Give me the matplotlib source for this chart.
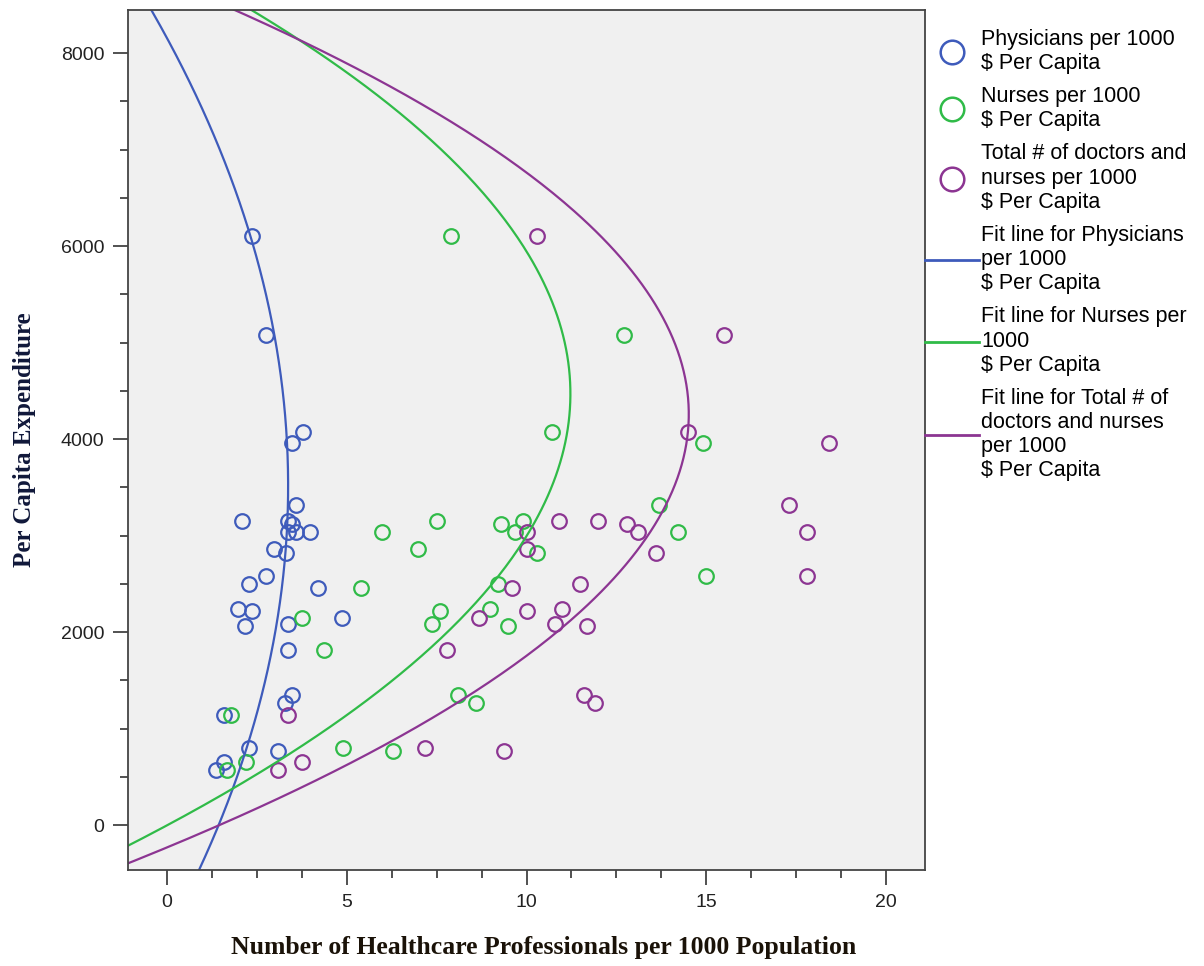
import numpy as np
import matplotlib
matplotlib.use("Agg")
import matplotlib.pyplot as plt
from matplotlib.lines import Line2D

# Dépense par habitant (une valeur par pays)
spend = [6100, 5080, 4070, 3955, 3320, 3155, 3155, 3120, 3035, 3035, 3035,
         2865, 2815, 2585, 2495, 2455, 2235, 2220, 2150, 2080, 2065, 1815,
         1345, 1265, 1140, 795, 765, 650, 570]

physicians = [2.38, 2.77, 3.78, 3.48, 3.58, 2.09, 3.37, 3.49, 3.99, 3.58, 3.36,
              2.97, 3.30, 2.77, 2.28, 4.19, 1.97, 2.38, 4.88, 3.37, 2.18, 3.37,
              3.48, 3.28, 1.58, 2.28, 3.09, 1.58, 1.38]

nurses = [7.89, 12.71, 10.70, 14.90, 13.69, 9.89, 7.50, 9.29, 5.99, 14.20, 9.68,
          6.99, 10.30, 14.99, 9.20, 5.39, 8.98, 7.59, 3.77, 7.38, 9.49, 4.38,
          8.10, 8.60, 1.78, 4.89, 6.28, 2.19, 1.68]

total = [10.29, 15.50, 14.50, 18.41, 17.31, 12.00, 10.90, 12.80, 10.01, 17.81, 13.11,
         10.01, 13.60, 17.81, 11.49, 9.59, 11.00, 10.01, 8.69, 10.79, 11.69, 7.78,
         11.60, 11.91, 3.37, 7.18, 9.38, 3.77, 3.09]

series_names = ["Physicians per 1000", "Nurses per 1000",
                "Total # of doctors and\nnurses per 1000"]
fit_names = ["Fit line for Physicians\nper 1000", "Fit line for Nurses per\n1000",
             "Fit line for Total # of\ndoctors and nurses\nper 1000"]
colors = ["#3E5BBB", "#30BB48", "#8C3592"]

plt.rcParams['font.family'] = ['Liberation Sans', 'DejaVu Sans']

fig = plt.figure(figsize=(12.04, 9.66), dpi=100)
ax = fig.add_axes([0.1063, 0.0994, 0.6620, 0.8902])
ax.set_facecolor("#F0F0F0")

y = np.array(spend, dtype=float)
y_line = np.linspace(-600, 8600, 400)
for xs, c in zip([physicians, nurses, total], colors):
    ax.plot(xs, y, linestyle='none', marker='o', markersize=10.5,
            markerfacecolor='none', markeredgecolor=c, markeredgewidth=1.6)
for xs, c in zip([physicians, nurses, total], colors):
    # ajustement quadratique x = f(y)
    coef = np.polyfit(y, np.array(xs), 2)
    ax.plot(np.polyval(coef, y_line), y_line, color=c, linewidth=1.6)

ax.set_xticks([0, 5, 10, 15, 20])
ax.set_xticks(np.arange(0, 21, 1.25), minor=True)
ax.set_yticks([0, 2000, 4000, 6000, 8000])
ax.set_yticks(np.arange(0, 8400, 500), minor=True)
ax.set_xlim(-1.08, 21.08)
ax.set_ylim(-466, 8446)
ax.tick_params(which='major', length=11, width=1.2, color='#333333',
               labelsize=14, labelcolor='#222222', pad=6)
ax.tick_params(which='minor', length=5.5, width=1.2, color='#333333')
for s in ax.spines.values():
    s.set_color('#444444')
    s.set_linewidth(1.3)

ax.set_xlabel("Number of Healthcare Professionals per 1000 Population",
              family='Liberation Serif', fontweight='bold', fontsize=18.5,
              color='#1a1208')
ax.xaxis.set_label_coords(0.521, -0.077)
ax.set_ylabel("Per Capita Expenditure", family='Liberation Serif',
              fontweight='bold', fontsize=18, color='#10183a', labelpad=18)

handles = []
labels = []
for n, c in zip(series_names, colors):
    handles.append(Line2D([], [], linestyle='none', marker='o', markersize=17,
                          markerfacecolor='none', markeredgecolor=c,
                          markeredgewidth=1.8))
    labels.append(n + "\n$ Per Capita")
for n, c in zip(fit_names, colors):
    handles.append(Line2D([], [], color=c, linewidth=2))
    labels.append(n + "\n$ Per Capita")

leg = ax.legend(handles, labels, loc='upper left', bbox_to_anchor=(1.0, 0.978),
                frameon=False, fontsize=15.5, handlelength=2.5, handletextpad=0.1,
                borderaxespad=0, borderpad=0, labelspacing=0.56)
for t in leg.get_texts():
    t.set_linespacing(1.2)

fig.savefig("out.png", dpi=100)
